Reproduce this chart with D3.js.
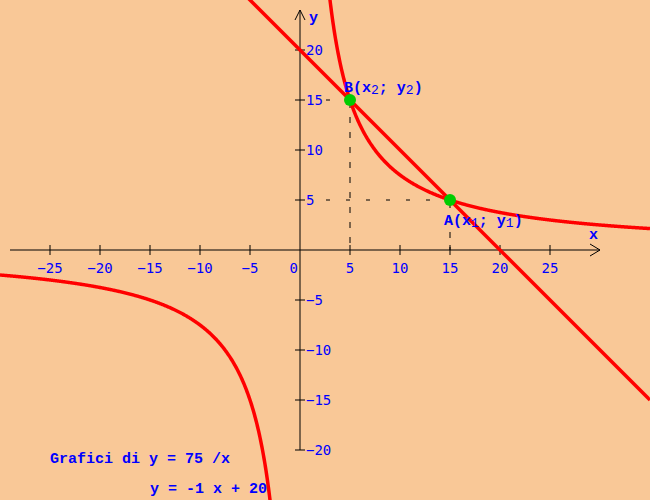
<!DOCTYPE html>
<html>
<head>
<meta charset="utf-8">
<script src="https://cdn.jsdelivr.net/npm/d3@7"></script>
<style>
  body { margin: 0; background: #f9c897; }
  svg { display: block; }
</style>
</head>
<body>
<div id="chart_area"></div>
<script>
// data
var hypK = [75];            // y = k / x
var lineMQ = [-1, 20];      // y = m x + q
var xTicks = [-25, -20, -15, -10, -5, 5, 10, 15, 20, 25];
var yTicks = [-20, -15, -10, -5, 5, 10, 15, 20];
var yTickLabels = ["\u221220", "\u221215", "\u221210", "\u22125", "5", "10", "15", "20"];
var pointNames = ["A", "B"];
var pointX = [15, 5];
var pointY = [5, 15];

var width = 650, height = 500;
var blue = "#0000ff", red = "#ff0000";

var x = d3.scaleLinear().domain([-30, 35]).range([0, width]);
var y = d3.scaleLinear().domain([25, -25]).range([0, height]);

var svg = d3.select("#chart_area")
    .append("svg")
    .attr("width", width)
    .attr("height", height);

svg.append("rect").attr("width", width).attr("height", height).attr("fill", "#f9c897");

// dashed guide lines
pointX.forEach(function (px, i) {
    var py = pointY[i];
    svg.append("line")
        .attr("x1", x(0) + 26).attr("y1", y(py))
        .attr("x2", x(px)).attr("y2", y(py))
        .attr("stroke", "black").attr("stroke-width", 1)
        .attr("stroke-dasharray", "4,16");
    svg.append("line")
        .attr("x1", x(px)).attr("y1", y(py) + 2)
        .attr("x2", x(px)).attr("y2", y(0))
        .attr("stroke", "black").attr("stroke-width", 1)
        .attr("stroke-dasharray", "6,9");
});

// axes
svg.append("line")
    .attr("x1", 10).attr("y1", y(0)).attr("x2", 600).attr("y2", y(0))
    .attr("stroke", "black");
svg.append("path")
    .attr("d", "M590," + (y(0) - 6) + "L600," + y(0) + "L590," + (y(0) + 6))
    .attr("fill", "none").attr("stroke", "black");
svg.append("line")
    .attr("x1", x(0)).attr("y1", 10).attr("x2", x(0)).attr("y2", y(-20))
    .attr("stroke", "black");
svg.append("path")
    .attr("d", "M" + (x(0) - 5) + ",20L" + x(0) + ",10L" + (x(0) + 5) + ",20")
    .attr("fill", "none").attr("stroke", "black");

svg.selectAll(".xtick").data(xTicks).enter().append("line")
    .attr("x1", function (d) { return x(d); }).attr("x2", function (d) { return x(d); })
    .attr("y1", y(0) - 5).attr("y2", y(0) + 5)
    .attr("stroke", "black");
svg.selectAll(".ytick").data(yTicks).enter().append("line")
    .attr("y1", function (d) { return y(d); }).attr("y2", function (d) { return y(d); })
    .attr("x1", x(0) - 5).attr("x2", x(0) + 5)
    .attr("stroke", "black");

var tickFont = "'DejaVu Sans Mono', monospace";
svg.selectAll(".xlab").data(xTicks).enter().append("text")
    .attr("x", function (d) { return x(d); })
    .attr("y", y(0) + 23)
    .attr("text-anchor", "middle")
    .attr("font-family", tickFont).attr("font-size", 14)
    .attr("fill", blue)
    .text(function (d) { return d < 0 ? "\u2212" + (-d) : d; });
svg.append("text")
    .attr("x", x(0) - 2).attr("y", y(0) + 23)
    .attr("text-anchor", "end")
    .attr("font-family", tickFont).attr("font-size", 14)
    .attr("fill", blue).text("0");
svg.selectAll(".ylab").data(yTicks).enter().append("text")
    .attr("x", x(0) + 6)
    .attr("y", function (d) { return y(d) + 5; })
    .attr("font-family", tickFont).attr("font-size", 14)
    .attr("fill", blue)
    .text(function (d, i) { return yTickLabels[i]; });

var boldFont = "'Liberation Mono', monospace";
svg.append("text").attr("x", 589).attr("y", 239)
    .attr("font-family", boldFont).attr("font-size", 15).attr("font-weight", "bold")
    .attr("fill", blue).text("x");
svg.append("text").attr("x", 309).attr("y", 22)
    .attr("font-family", boldFont).attr("font-size", 15).attr("font-weight", "bold")
    .attr("fill", blue).text("y");

// hyperbola y = k/x
var hyp = function (t) { return hypK[0] / t; };
var lineGen = d3.line()
    .x(function (d) { return x(d); })
    .y(function (d) { return y(hyp(d)); });
[d3.range(-30, -2.9, 0.05), d3.range(2.95, 35.05, 0.05)].forEach(function (xs) {
    svg.append("path")
        .attr("d", lineGen(xs))
        .attr("fill", "none")
        .attr("stroke", red)
        .attr("stroke-width", 3.5);
});

// straight line
var lin = function (t) { return lineMQ[0] * t + lineMQ[1]; };
svg.append("line")
    .attr("x1", x(-6)).attr("y1", y(lin(-6)))
    .attr("x2", x(35)).attr("y2", y(lin(35)))
    .attr("stroke", red).attr("stroke-width", 3.5);

// intersection points
svg.selectAll(".pt").data(pointX).enter().append("circle")
    .attr("cx", function (d) { return x(d); })
    .attr("cy", function (d, i) { return y(pointY[i]); })
    .attr("r", 6)
    .attr("fill", "#00cc00");

var labelPos = [[444, 225], [344, 92]];
pointNames.forEach(function (n, i) {
    var sub = n === "A" ? "1" : "2";
    var t = svg.append("text")
        .attr("x", labelPos[i][0]).attr("y", labelPos[i][1])
        .attr("font-family", boldFont).attr("font-size", 15).attr("font-weight", "bold")
        .attr("fill", blue)
        .attr("xml:space", "preserve");
    t.append("tspan").text(n + "(x");
    t.append("tspan").attr("font-size", 13).attr("font-weight", "normal").attr("dy", 2).text(sub);
    t.append("tspan").attr("dy", -2).text("; y");
    t.append("tspan").attr("font-size", 13).attr("font-weight", "normal").attr("dy", 2).text(sub);
    t.append("tspan").attr("dy", -2).text(")");
});

// captions
svg.append("text").attr("x", 50).attr("y", 463)
    .attr("font-family", boldFont).attr("font-size", 15).attr("font-weight", "bold")
    .attr("fill", blue).attr("xml:space", "preserve")
    .text("Grafici di y = " + hypK[0] + " /x");
svg.append("text").attr("x", 150).attr("y", 493)
    .attr("font-family", boldFont).attr("font-size", 15).attr("font-weight", "bold")
    .attr("fill", blue).attr("xml:space", "preserve")
    .text("y = " + lineMQ[0] + " x + " + lineMQ[1]);
</script>
</body>
</html>
